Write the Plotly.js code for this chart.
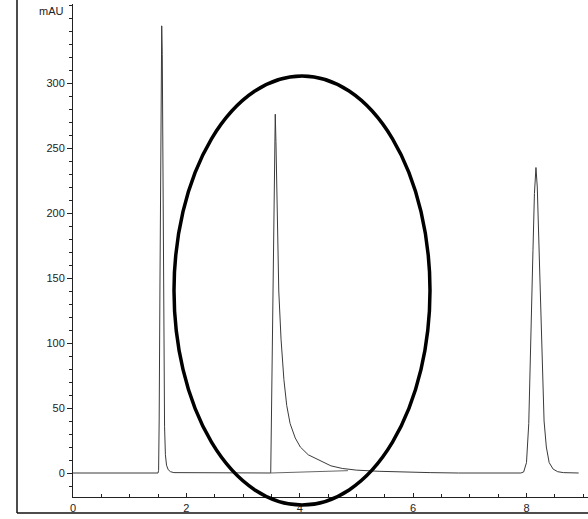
<!DOCTYPE html>
<html>
<head>
<meta charset="utf-8">
<script src="https://cdn.plot.ly/plotly-3.0.1.min.js"></script>
<style>html,body{margin:0;padding:0;background:#fff;}#chart{width:588px;height:519px;}</style>
</head>
<body>
<div id="chart"></div>
<script>
// Retention time (min) and absorbance (mAU)
const leadTime = [0.00, 0.50, 1.00, 1.40];
const leadAbs  = [0.0, 0.0, 0.1, 0.0];

const peak1Time = [1.50, 1.51, 1.52, 1.535, 1.55, 1.565, 1.575, 1.585, 1.595, 1.605, 1.615, 1.63, 1.65, 1.68, 1.72, 1.78];
const peak1Abs  = [0.0, 2, 40, 150, 270, 344, 322, 250, 160, 82, 36, 14, 6, 2.5, 1.0, 0.3];

const gap1Time = [2.2, 2.8, 3.3, 3.45];
const gap1Abs  = [0.1, 0.0, 0.1, 0.0];

const peak2Time = [3.488, 3.50, 3.51, 3.52, 3.533, 3.55, 3.568, 3.58, 3.60, 3.63, 3.67, 3.72, 3.77, 3.83, 3.92, 4.01, 4.15, 4.36, 4.55, 4.75, 5.0, 5.4, 5.8, 6.3];
const peak2Abs  = [0.0, 40, 75, 120, 195, 250, 276, 255, 195, 140, 103, 72, 52, 38, 27, 20, 14, 9.5, 5.5, 3.5, 2.2, 1.3, 0.7, 0.3];

const gap2Time = [6.8, 7.3, 7.7];
const gap2Abs  = [0.0, 0.1, 0.0];

const peak3Time = [7.90, 7.95, 8.00, 8.04, 8.08, 8.114, 8.14, 8.167, 8.19, 8.22, 8.25, 8.28, 8.31, 8.35, 8.40, 8.47, 8.55, 8.65, 8.80, 8.92];
const peak3Abs  = [0.0, 0.8, 8, 38, 100, 171, 215, 235, 220, 172, 115, 68, 40, 20, 8, 3, 1.0, 0.3, 0.1, 0.0];

// integration baseline drawn under peak 2
const intBaseTime = [3.488, 4.85];
const intBaseAbs  = [0.0, 1.8];

const xTicks = [0, 2, 4, 6, 8];
const yTicks = [0, 50, 100, 150, 200, 250, 300];

const time = [].concat(leadTime, peak1Time, gap1Time, peak2Time, gap2Time, peak3Time);
const abs  = [].concat(leadAbs, peak1Abs, gap1Abs, peak2Abs, gap2Abs, peak3Abs);

const traces = [
  {x: time, y: abs, type: 'scatter', mode: 'lines', line: {color: '#3a3a3a', width: 1}, hoverinfo: 'skip', showlegend: false},
  {x: intBaseTime, y: intBaseAbs, type: 'scatter', mode: 'lines', line: {color: '#666', width: 1}, hoverinfo: 'skip', showlegend: false}
];

const L = 73, T = 4, B = 22, W = 588, H = 519;
const pw = W - L, ph = H - T - B;
const px = v => (v - L) / pw;           // pixel x -> paper
const py = v => (H - B - v) / ph;       // pixel y -> paper

const layout = {
  width: W, height: H,
  margin: {l: L, r: 0, t: T, b: B, pad: 0},
  paper_bgcolor: '#ffffff', plot_bgcolor: '#ffffff',
  font: {family: 'Liberation Sans, Arial, sans-serif', size: 11, color: '#222'},
  showlegend: false,
  xaxis: {
    range: [0, 9.085], showgrid: false, zeroline: false,
    showline: true, linecolor: '#222', linewidth: 1,
    tickmode: 'array', tickvals: xTicks, ticktext: xTicks.map(String),
    ticks: 'inside', ticklen: 4, tickcolor: '#222', tickwidth: 1,
    minor: {dtick: 0.5, tick0: 0, ticks: 'inside', ticklen: 3, tickcolor: '#222', showgrid: false},
    tickfont: {size: 11, color: '#222'}, ticklabelstandoff: 1
  },
  yaxis: {
    range: [-18.46, 360.8], showgrid: false, zeroline: false,
    showline: true, linecolor: '#222', linewidth: 1,
    tickmode: 'array', tickvals: yTicks, ticktext: yTicks.map(String),
    ticks: 'outside', ticklen: 5, tickcolor: '#222', tickwidth: 1,
    minor: {dtick: 10, tick0: 0, ticks: 'outside', ticklen: 3, tickcolor: '#222', showgrid: false},
    tickfont: {size: 11, color: '#222'}
  },
  shapes: [
    {type: 'circle', xref: 'paper', yref: 'paper', x0: px(174), x1: px(430), y0: py(505), y1: py(76), line: {color: '#000', width: 3.5}, fillcolor: 'rgba(0,0,0,0)'},
    {type: 'line', xref: 'paper', yref: 'paper', x0: px(17), x1: px(17), y0: py(513), y1: py(0), line: {color: '#111', width: 1.5}},
    {type: 'line', xref: 'paper', yref: 'paper', x0: px(17), x1: 1, y0: py(513), y1: py(513), line: {color: '#111', width: 1.5}}
  ],
  annotations: [
    {text: 'mAU', xref: 'paper', yref: 'paper', x: px(66), y: py(11), xanchor: 'right', yanchor: 'middle', showarrow: false, font: {size: 11, color: '#222'}}
  ]
};

Plotly.newPlot('chart', traces, layout, {displayModeBar: false, staticPlot: true});
</script>
</body>
</html>
